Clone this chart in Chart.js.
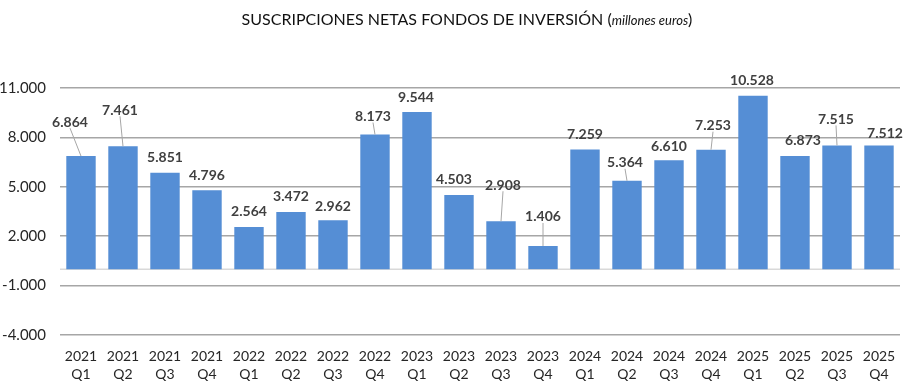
<!DOCTYPE html>
<html>
<head>
<meta charset="utf-8">
<script src="https://cdn.jsdelivr.net/npm/chart.js@4.4.1/dist/chart.umd.min.js"></script>
<style>
  body { margin: 0; background: #fff; }
  canvas { display: block; }
</style>
</head>
<body>
<canvas id="chart" width="924" height="389"></canvas>
<script>
// data
const years = ['2021', '2021', '2021', '2021', '2022', '2022', '2022', '2022', '2023', '2023',
  '2023', '2023', '2024', '2024', '2024', '2024', '2025', '2025', '2025', '2025'];
const quarters = ['Q1', 'Q2', 'Q3', 'Q4', 'Q1', 'Q2', 'Q3', 'Q4', 'Q1', 'Q2',
  'Q3', 'Q4', 'Q1', 'Q2', 'Q3', 'Q4', 'Q1', 'Q2', 'Q3', 'Q4'];
const suscripciones = [6864, 7461, 5851, 4796, 2564, 3472, 2962, 8173, 9544, 4503,
  2908, 1406, 7259, 5364, 6610, 7253, 10528, 6873, 7515, 7512];
const yTicks = [-4000, -1000, 2000, 5000, 8000, 11000];

// label placement (px from top of bar), leader line when moved away
const labelOffsets = [[-11, -34, 1], [-3, -36, 1], [0, -15], [0, -15], [0, -15], [0, -15], [0, -14],
  [-2, -18, 1], [-1, -14], [-5, -15], [2, -36, 1], [0, -29, 1], [0, -15], [-2, -18, 1], [0, -14],
  [2, -24, 1], [-1, -15], [8, -15], [-1, -26, 1], [6, -11.5]];

const fmt = v => {
  const s = Math.abs(v).toString().replace(/\B(?=(\d{3})+(?!\d))/g, '.');
  return (v < 0 ? '-' : '') + s;
};

const labels = years.map((y, i) => [y, quarters[i]]);

const titlePlugin = {
  id: 'titlePlugin',
  afterDraw(chart) {
    const ctx = chart.ctx;
    const a = 'SUSCRIPCIONES NETAS FONDOS DE INVERSIÓN (';
    const b = 'millones euros';
    const c = ')';
    ctx.save();
    ctx.fillStyle = '#111';
    ctx.textBaseline = 'middle';
    ctx.textAlign = 'left';
    const f1 = '16px Lato';
    const f2 = 'italic 13px Lato';
    ctx.font = f1;
    const wa = ctx.measureText(a).width, wc = ctx.measureText(c).width;
    ctx.font = f2;
    const wb = ctx.measureText(b).width;
    let x = 467 - (wa + wb + wc) / 2;
    const y = 20;
    ctx.font = f1; ctx.fillText(a, x, y); x += wa;
    ctx.font = f2; ctx.fillText(b, x, y + 1); x += wb;
    ctx.font = f1; ctx.fillText(c, x, y);
    ctx.restore();
  }
};

const zeroLine = {
  id: 'zeroLine',
  beforeDatasetsDraw(chart) {
    const ctx = chart.ctx, area = chart.chartArea;
    const y0 = chart.scales.y.getPixelForValue(0);
    ctx.save();
    ctx.strokeStyle = '#d9d9d9';
    ctx.lineWidth = 1.5;
    ctx.beginPath();
    ctx.moveTo(area.left, y0);
    ctx.lineTo(area.right, y0);
    ctx.stroke();
    ctx.restore();
  }
};

const barLabels = {
  id: 'barLabels',
  afterDatasetsDraw(chart) {
    const ctx = chart.ctx;
    const meta = chart.getDatasetMeta(0);
    ctx.save();
    ctx.font = 'bold 14px Lato';
    ctx.textAlign = 'center';
    ctx.textBaseline = 'middle';
    meta.data.forEach((bar, i) => {
      const [dx, dy, leader] = labelOffsets[i];
      const lx = bar.x + dx, ly = bar.y + dy;
      if (leader) {
        ctx.strokeStyle = '#a6a6a6';
        ctx.lineWidth = 1;
        ctx.beginPath();
        ctx.moveTo(lx, ly + 6);
        ctx.lineTo(bar.x, bar.y);
        ctx.stroke();
      }
      ctx.fillStyle = '#404040';
      ctx.fillText(fmt(suscripciones[i]), lx, ly);
    });
    ctx.restore();
  }
};

new Chart(document.getElementById('chart').getContext('2d'), {
  type: 'bar',
  data: {
    labels: labels,
    datasets: [{
      data: suscripciones,
      backgroundColor: '#558ed5',
      borderWidth: 0,
      barPercentage: 0.7,
      categoryPercentage: 1.0
    }]
  },
  options: {
    responsive: false,
    animation: false,
    layout: { padding: { top: 88, right: 24, left: 0, bottom: 0 } },
    plugins: {
      legend: { display: false },
      tooltip: { enabled: false },
      title: { display: false }
    },
    scales: {
      x: {
        grid: { display: false, drawTicks: false },
        border: { display: false },
        ticks: {
          color: '#262626',
          font: { family: 'Lato', size: 14, lineHeight: 1.3 },
          padding: 12,
          maxRotation: 0,
          autoSkip: false
        },
        afterFit(scale) { scale.height = 54; }
      },
      y: {
        min: -4000,
        max: 11000,
        afterBuildTicks(scale) { scale.ticks = yTicks.map(v => ({ value: v })); },
        grid: { color: '#a6a6a6', lineWidth: 1.5, drawTicks: false },
        border: { display: false },
        ticks: {
          color: '#262626',
          font: { family: 'Lato', size: 15 },
          padding: 14,
          callback: v => fmt(v)
        },
        afterFit(scale) { scale.width = 60; }
      }
    }
  },
  plugins: [zeroLine, barLabels, titlePlugin]
});
</script>
</body>
</html>
